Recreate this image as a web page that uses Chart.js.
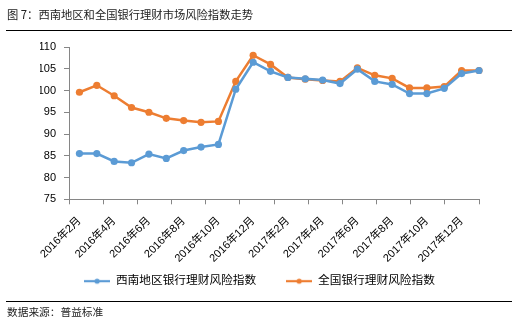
<!DOCTYPE html>
<html>
<head>
<meta charset="utf-8">
<script src="https://cdn.jsdelivr.net/npm/chart.js@4"></script>
<style>
  body { margin: 0; background: #fff; }
  #wrap { position: relative; width: 532px; height: 327px; overflow: hidden; }
  #wrap canvas { position: absolute; left: 0; top: 0; }
  .note { position: absolute; left: 7px; color: #222; white-space: nowrap;
          font-family: 'Noto Sans CJK SC', sans-serif; }
  .rule { position: absolute; left: 6px; width: 506px; height: 1px; background: #000; }
</style>
</head>
<body>
<div id="wrap">
  <canvas id="riskChart" width="532" height="327"></canvas>
  <div class="note" style="top:6px; font-size:11.3px;">图 7：西南地区和全国银行理财市场风险指数走势</div>
  <div class="rule" style="top:30px;"></div>
  <div class="rule" style="top:301px;"></div>
  <div class="note" style="top:304px; font-size:10.7px;">数据来源：普益标准</div>
</div>
<script>
// Chart data
const months = ['2016年2月', '2016年3月', '2016年4月', '2016年5月', '2016年6月', '2016年7月',
    '2016年8月', '2016年9月', '2016年10月', '2016年11月', '2016年12月', '2017年1月',
    '2017年2月', '2017年3月', '2017年4月', '2017年5月', '2017年6月', '2017年7月',
    '2017年8月', '2017年9月', '2017年10月', '2017年11月', '2017年12月', '2018年1月'];
const southwestIndex = [85.5, 85.5, 83.7, 83.4, 85.4, 84.4, 86.2, 87.0, 87.6, 100.3, 106.5, 104.4,
    103.0, 102.7, 102.4, 101.6, 104.9, 102.1, 101.4, 99.3, 99.3, 100.5, 103.9, 104.6];
const nationalIndex = [99.6, 101.2, 98.8, 96.1, 95.0, 93.6, 93.1, 92.7, 92.9, 102.1, 108.1, 106.0,
    103.0, 102.6, 102.3, 102.1, 105.2, 103.5, 102.8, 100.6, 100.6, 100.9, 104.6, 104.6];
const yTicks = [75, 80, 85, 90, 95, 100, 105, 110];
const labelEvery = 2;

const BLUE = '#5B9BD5';
const ORANGE = '#ED7D31';
const AXIS = '#868686';
const FONT = "'Liberation Sans', 'Noto Sans CJK SC', sans-serif";
const X_MIN = -0.6;
const X_MAX = months.length - 1;

// line + dot icon for the legend
function legendIcon(color) {
    const c = document.createElement('canvas');
    c.width = 26;
    c.height = 8;
    const g = c.getContext('2d');
    g.strokeStyle = color;
    g.lineWidth = 2.2;
    g.beginPath();
    g.moveTo(0, 4);
    g.lineTo(26, 4);
    g.stroke();
    g.fillStyle = color;
    g.beginPath();
    g.arc(13, 4, 2.6, 0, Math.PI * 2);
    g.fill();
    return c;
}
const icons = [legendIcon(BLUE), legendIcon(ORANGE)];

function toPoints(values) {
    return values.map((v, i) => ({ x: i, y: v }));
}

// the rotated month labels hang below their (short) axis box, so widen the clip area
const labelRoom = {
    id: 'labelRoom',
    afterLayout(chart) {
        const s = chart.scales.x;
        s.bottom = s.top + 60;
    }
};

new Chart(document.getElementById('riskChart'), {
    type: 'line',
    data: {
        datasets: [
            {
                label: '西南地区银行理财风险指数',
                data: toPoints(southwestIndex),
                borderColor: BLUE,
                backgroundColor: BLUE,
                borderWidth: 2.5,
                pointRadius: 3.6,
                pointBorderWidth: 0,
                tension: 0,
                clip: false
            },
            {
                label: '全国银行理财风险指数',
                data: toPoints(nationalIndex),
                borderColor: ORANGE,
                backgroundColor: ORANGE,
                borderWidth: 2.5,
                pointRadius: 3.6,
                pointBorderWidth: 0,
                tension: 0,
                clip: false
            }
        ]
    },
    plugins: [labelRoom],
    options: {
        responsive: false,
        animation: false,
        devicePixelRatio: 1,
        layout: {
            padding: { left: 40, right: 53, top: 47, bottom: 30 }
        },
        plugins: {
            title: { display: false },
            tooltip: { enabled: false },
            legend: {
                position: 'bottom',
                labels: {
                    color: '#000',
                    font: { family: FONT, size: 11.7 },
                    padding: 30,
                    usePointStyle: true,
                    pointStyleWidth: 26,
                    boxHeight: 8,
                    generateLabels(chart) {
                        const items = Chart.defaults.plugins.legend.labels.generateLabels(chart);
                        items.forEach((item, i) => { item.pointStyle = icons[i]; });
                        return items;
                    }
                }
            }
        },
        scales: {
            y: {
                type: 'linear',
                min: yTicks[0],
                max: yTicks[yTicks.length - 1],
                afterBuildTicks(scale) {
                    scale.ticks = yTicks.map(v => ({ value: v }));
                },
                afterFit(scale) { scale.width = 29; },
                ticks: {
                    color: '#000',
                    font: { family: FONT, size: 11 },
                    padding: 8
                },
                grid: { drawOnChartArea: false, tickLength: 5, color: AXIS },
                border: { color: AXIS, width: 1 }
            },
            xt: {
                type: 'linear',
                position: 'bottom',
                weight: 0,
                min: X_MIN,
                max: X_MAX,
                afterBuildTicks(scale) {
                    const n = 12;
                    const step = (X_MAX - X_MIN) / n;
                    const t = [];
                    for (let k = 0; k <= n; k++) t.push({ value: X_MIN + k * step });
                    scale.ticks = t;
                },
                afterFit(scale) { scale.height = 5; },
                ticks: { display: false },
                grid: { drawOnChartArea: false, tickLength: 5, color: AXIS },
                border: { color: AXIS, width: 1 }
            },
            x: {
                type: 'linear',
                position: 'bottom',
                weight: 1,
                min: X_MIN,
                max: X_MAX,
                afterBuildTicks(scale) {
                    scale.ticks = months
                        .map((m, i) => i)
                        .filter(i => i % labelEvery === 0 && i < months.length - 1)
                        .map(i => ({ value: i }));
                },
                afterFit(scale) { scale.height = 41; },
                ticks: {
                    autoSkip: false,
                    maxRotation: 45,
                    minRotation: 45,
                    padding: 10,
                    color: '#000',
                    font: { family: FONT, size: 11 },
                    callback: v => months[v]
                },
                grid: { display: false, drawTicks: false },
                border: { display: false }
            }
        }
    }
});
</script>
</body>
</html>
